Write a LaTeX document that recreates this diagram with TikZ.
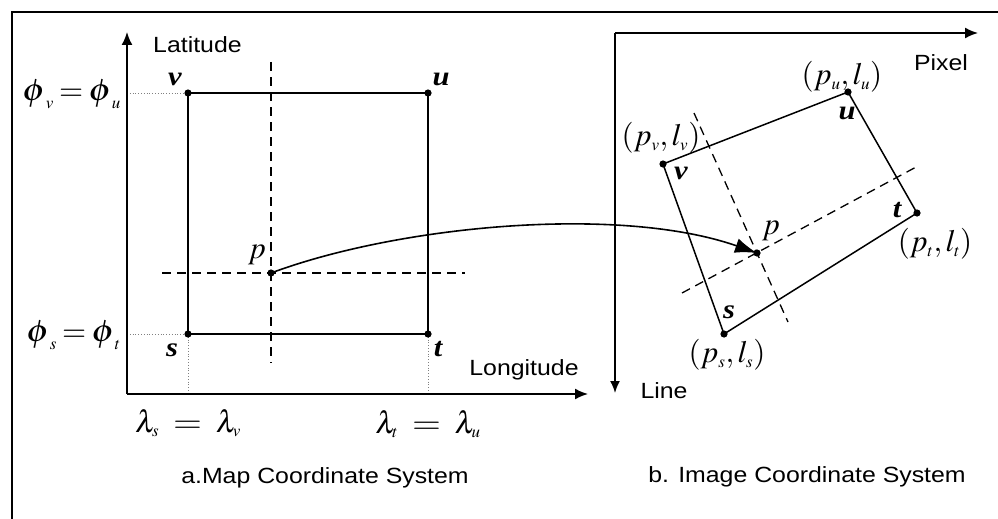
\documentclass[tikz,border=0pt]{standalone}
\usepackage{mathptmx}
\usepackage{fontspec}
\newfontfamily\arial{Liberation Sans}
\newfontfamily\tms{Liberation Serif}
\usetikzlibrary{arrows.meta}
\newcommand{\sx}[1]{\scalebox{1.13}[1]{#1}}
\newcommand{\ssub}[1]{_{\mbox{\fontsize{17}{17}\selectfont$#1$}}}
\newcommand{\eqw}{\mathrel{\scalebox{1.2}[1]{$=$}}}
\newcommand{\eqn}{\mskip3mu{=}\mskip3mu}
\newcommand{\wphi}{\mathord{\scalebox{1.2}[1]{$\phi$}}}
\tikzset{
  lbl/.style={font=\arial\fontsize{22}{26}\selectfont, inner sep=0pt},
  mth/.style={font=\fontsize{31}{36}\selectfont, inner sep=0pt},
  bld/.style={font=\tms\bfseries\itshape\fontsize{27}{32}\selectfont, inner sep=0pt},
  frame/.style={line width=1.4pt},
  axis/.style={line width=1.7pt, -{Latex[length=13pt,width=11pt]}},
  edge/.style={line width=1.5pt},
  guide/.style={line width=1.3pt, dash pattern=on 9pt off 6pt},
  aux/.style={line width=0.8pt, gray, dotted},
  dot/.style={fill=black},
  mapping/.style={line width=1.6pt, -{Latex[length=22pt,width=15pt]}}
}
\begin{document}
\begin{tikzpicture}[x=1pt,y=-1pt]
\useasboundingbox (0,0) rectangle (998,519);
% frame
\draw[frame] (998,12) -- (12,12) -- (12,519);

% ---- map coordinate system ----
\coordinate (O) at (127,394);
\coordinate (ytip) at (127,32);
\coordinate (xtip) at (588,394);
\coordinate (v) at (188,93);
\coordinate (u) at (428,93);
\coordinate (t) at (428,334);
\coordinate (s) at (188,334);
\coordinate (p) at (271,273);
\coordinate (yv) at (127,93);
\coordinate (ys) at (127,334);
\coordinate (xs) at (188,394);
\coordinate (xt) at (428,394);
\coordinate (dv1) at (271,62);
\coordinate (dv2) at (271,363);
\coordinate (dh1) at (162,273);
\coordinate (dh2) at (465,273);

\draw[aux] (yv) -- (v);
\draw[aux] (ys) -- (s);
\draw[aux] (s) -- (xs);
\draw[aux] (t) -- (xt);
\draw[axis] (O) -- (ytip);
\draw[axis] (O) -- (xtip);
\draw[edge] (v) -- (u) -- (t) -- (s) -- cycle;
\draw[guide] (dv1) -- (dv2);
\draw[guide] (dh1) -- (dh2);
\foreach \q in {v,u,t,s,p} \fill[dot] (\q) circle[radius=3.6pt];

\node[lbl, anchor=west] (lat) at (153,45) {\sx{Latitude}};
\node[lbl] (lon) at (524,370) {\sx{Longitude}};
\node[mth, anchor=east] (phv) at (121,94) {$\wphi\ssub{v}\eqn\wphi\ssub{u}$};
\node[mth, anchor=east] (phs) at (121,335) {$\wphi\ssub{s}\eqn\wphi\ssub{t}$};
\node[mth] (las) at (188,423) {$\lambda\ssub{s}\;\eqw\;\lambda\ssub{v}$};
\node[mth] (lat2) at (428,424) {$\lambda\ssub{t}\;\eqw\;\lambda\ssub{u}$};
\node[bld] (lv) at (175,79) {\sx{v}};
\node[bld] (lu) at (441,79) {\sx{u}};
\node[bld] (ls) at (172,350) {\sx{s}};
\node[bld] (lt) at (438,349) {\sx{t}};
\node[mth] (lp) at (257,255) {$p$};
\node[lbl] (capa) at (325,478) {\sx{a.Map Coordinate System}};

% ---- image coordinate system ----
\coordinate (O2) at (615,33);
\coordinate (ptip) at (978,33);
\coordinate (ltip) at (615,393);
\coordinate (v2) at (663,164);
\coordinate (u2) at (848,92);
\coordinate (t2) at (917,213);
\coordinate (s2) at (724,334);
\coordinate (p2) at (757,253);
\coordinate (e1) at (694,113);
\coordinate (e2) at (788,322);
\coordinate (f1) at (682,293);
\coordinate (f2) at (918,166);

\draw[axis] (O2) -- (ptip);
\draw[axis, -{Latex[length=12pt,width=10pt]}] (O2) -- (ltip);
\draw[edge] (v2) -- (u2) -- (t2) -- (s2) -- cycle;
\draw[guide] (e1) -- (e2);
\draw[guide] (f1) -- (f2);
\foreach \q in {v2,u2,t2,s2,p2} \fill[dot] (\q) circle[radius=3.6pt];

\node[lbl] (pix) at (941,63) {\sx{Pixel}};
\node[lbl] (lin) at (664,391) {\sx{Line}};
\node[mth] (cu) at (842,77) {$(p\ssub{u},l\ssub{u})$};
\node[mth] (cv) at (661,138) {$(p\ssub{v},l\ssub{v})$};
\node[mth] (ct) at (935,244) {$(p\ssub{t},l\ssub{t})$};
\node[mth] (cs) at (727,355) {$(p\ssub{s},l\ssub{s})$};
\node[bld] (lu2) at (847,113) {\sx{u}};
\node[bld] (lv2) at (681,173) {\sx{v}};
\node[bld] (lt2) at (897,210) {\sx{t}};
\node[bld] (ls2) at (729,312) {\sx{s}};
\node[mth] (lp2) at (771,231) {$p$};
\node[lbl] (capb) at (807,477) {\sx{b. Image Coordinate System}};

% mapping curve
\draw[mapping] (p) .. controls (400,225) and (620,205) .. (p2);
\end{tikzpicture}
\end{document}
